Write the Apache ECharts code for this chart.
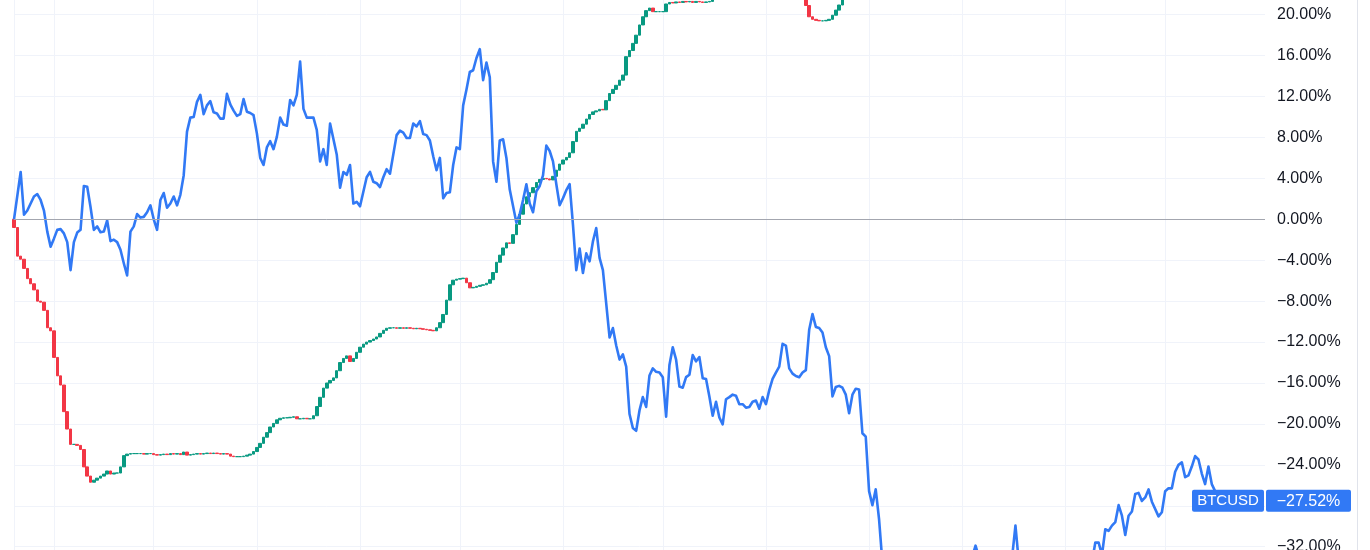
<!DOCTYPE html>
<html><head><meta charset="utf-8">
<script src="https://cdn.jsdelivr.net/npm/echarts@6/dist/echarts.min.js"></script>
<style>html,body{margin:0;padding:0;background:#fff}#c{width:1370px;height:550px}</style>
</head><body><div id="c"></div>
<script>
// ---- data ----
const START_DATE = '2022-05-20';   // first daily category
const DAY_COUNT = 377;             // daily categories shown across the pane
const Y_MIN = -36, Y_MAX = 24, Y_STEP = 4;

// main symbol (candles), daily close in % (open = previous close)
const CANDLE_CLOSE = [
 -0.8,-3.6,-3.9,-4.8,-5.8,-6.3,-6.9,-8.0,-8.1,-8.9,
 -10.6,-10.9,-13.5,-15.3,-16.2,-18.8,-20.5,-22.0,-22.0,-22.1,
 -22.5,-24.2,-25.1,-25.7,-25.5,-25.3,-25.1,-24.9,-24.6,-24.9,
 -24.8,-24.8,-24.2,-23.1,-22.95,-22.9,-22.9,-22.9,-22.9,-22.95,
 -22.9,-22.9,-23.0,-23.05,-23.0,-22.95,-23.0,-22.9,-22.95,-22.9,
 -23.0,-22.75,-23.05,-23.0,-22.95,-22.9,-22.95,-22.9,-22.85,-22.9,
 -22.85,-22.9,-22.95,-22.9,-22.95,-23.15,-23.2,-23.2,-23.2,-23.15,
 -23.05,-22.95,-22.7,-22.3,-21.9,-21.3,-20.85,-20.3,-19.95,-19.6,
 -19.45,-19.4,-19.4,-19.35,-19.3,-19.5,-19.5,-19.45,-19.5,-19.5,
 -19.2,-18.3,-17.4,-16.5,-16.0,-15.75,-15.5,-14.8,-14.0,-13.6,
 -13.35,-13.9,-13.6,-13.0,-12.5,-12.2,-12.0,-11.85,-11.7,-11.5,
 -11.15,-10.85,-10.65,-10.6,-10.6,-10.65,-10.6,-10.65,-10.6,-10.65,
 -10.7,-10.65,-10.7,-10.75,-10.8,-10.85,-10.9,-10.6,-10.1,-9.3,
 -7.9,-6.4,-5.95,-5.85,-5.8,-5.75,-6.2,-6.7,-6.65,-6.55,
 -6.45,-6.4,-6.25,-5.9,-5.2,-4.2,-3.5,-2.8,-2.3,-2.35,
 -1.5,-0.5,0.5,1.5,2.2,2.6,3.1,3.6,3.9,4.0,
 3.95,3.85,4.2,4.8,5.4,5.8,6.05,6.5,7.6,8.6,
 8.9,9.3,9.8,10.25,10.5,10.6,10.75,10.7,11.6,12.3,
 12.7,13.1,13.6,14.1,15.9,16.5,17.2,18.0,19.0,19.8,
 20.4,20.65,20.3,20.3,20.3,20.3,21.05,21.2,21.15,21.25,
 21.2,21.3,21.25,21.3,21.2,21.3,21.25,21.2,21.25,21.3,
 23.5,24.2,24.8,25.3,25.6,25.4,25.9,26.3,26.1,26.4,
 26.8,26.5,26.2,25.9,26.0,25.6,25.2,24.9,24.5,24.0,
 23.6,23.2,22.9,22.6,22.3,22.1,21.9,21.7,20.9,19.8,
 19.55,19.45,19.4,19.4,19.45,19.55,19.95,20.45,20.95,21.8,
 22.6,23.3,24.0,24.6,25.1,25.5
];

// compare symbol (line): day index -> % change
const BLUE_DAY = [
 0,2,3,4,6,7,8,9,10,11,12,13,14,15,16,17,18,19,20,21,22,23,24,25,26,27,28,29,30,31,32,33,34,35,36,37,38,39,40,
 41,42,43,44,45,46,47,48,49,50,51,52,53,54,55,56,57,58,59,60,61,62,63,64,65,66,67,68,69,70,71,72,73,74,75,76,77,78,79,80,
 81,82,83,84,85,86,87,88,89,90,91,92,93,94,95,97,98,99,100,101,102,103,104,106,107,108,109,110,111,112,113,115,116,117,118,119,120,
 121,122,123,124,125,126,127,128,129,130,131,132,133,134,135,136,137,138,139,140,141,142,143,144,145,146,147,148,149,151,152,153,154,155,156,157,158,159,160,
 161,162,163,164,165,166,167,168,169,170,171,172,173,174,175,176,177,178,179,180,181,182,183,184,185,186,187,188,189,190,191,192,193,194,195,196,197,198,199,200,
 201,202,203,204,205,206,207,208,209,210,211,212,213,214,215,216,217,218,219,220,221,222,223,224,225,226,227,228,229,230,231,232,233,234,235,236,237,238,239,240,
 241,242,243,244,245,246,247,248,249,250,251,252,253,254,255,256,257,258,259,260,261,264,268,272,276,280,284,288,289,290,293,296,299,300,301,302,305,309,313,317,321,324,
 325,326,327,328,329,330,331,332,333,334,335,336,337,338,339,340,341,342,344,345,346,347,348,349,350,351,352,353,354,355,356,357,358,359,360,361,363
];
const BLUE_PCT = [
 0,4.63,0.45,0.86,2.23,2.47,1.89,0.86,-1.2,-2.67,-1.89,-1.03,-0.96,-1.37,-2.23,-4.97,-2.23,-1.30,-1.03,3.26,3.19,1.20,-1.03,-0.69,-1.27,-1.20,-0.10,-2.13,-1.99,-2.23,-2.98,-4.29,-5.49,-1.20,-0.69,0.51,0.17,0.24,0.69,
 1.37,0,-1.03,1.89,2.57,1.13,1.54,2.23,1.37,2.40,4.29,8.57,9.94,10.0,11.48,12.17,10.28,11.14,11.55,10.46,10.35,9.84,9.84,12.27,11.24,10.63,10.11,10.28,11.76,10.52,10.39,10.18,8.40,6.0,5.31,7.03,7.64,6.86,8.06,9.94,
 9.26,9.15,11.66,11.14,12.17,15.43,10.80,9.94,9.94,9.94,8.74,5.66,6.86,5.31,9.36,6.34,3.09,4.63,4.35,5.31,1.54,1.71,1.27,4.11,4.63,3.67,3.53,3.15,4.11,4.90,4.46,8.23,8.67,8.47,7.95,7.95,9.36,
 9.08,9.60,8.33,8.23,7.71,6.17,4.80,6.0,2.06,2.57,2.64,5.31,7.03,6.86,11.14,12.68,14.40,14.57,15.77,16.63,13.61,15.32,13.88,5.66,3.67,7.71,7.82,6.0,2.91,-0.34,0.51,1.89,3.43,1.54,0.69,2.74,3.26,4.29,7.20,
 6.68,5.66,3.43,1.37,2.06,2.85,3.43,-0.51,-4.97,-2.85,-5.25,-3.33,-4.11,-2.16,-0.86,-3.77,-4.97,-8.23,-11.55,-10.63,-12.34,-13.71,-13.20,-14.40,-19.03,-20.40,-20.67,-18.68,-17.38,-18.34,-15.26,-14.57,-14.91,-14.98,-15.43,-19.30,-14.23,-12.51,-13.71,-16.35,
 -16.46,-15.43,-15.19,-13.27,-13.88,-13.47,-15.53,-15.60,-17.31,-19.20,-17.83,-19.37,-20.05,-17.59,-17.38,-17.14,-17.24,-18.07,-18.07,-18.41,-18.34,-17.83,-17.72,-18.51,-17.38,-18.07,-16.70,-15.60,-14.98,-14.40,-12.17,-12.34,-14.57,-15.08,-15.32,-15.43,-14.98,-14.74,-10.80,-9.26,
 -10.52,-10.63,-11.07,-12.51,-13.37,-17.31,-16.39,-16.28,-16.46,-17.14,-18.96,-17.14,-16.56,-16.63,-20.91,-21.25,-26.57,-27.94,-26.40,-29.31,-33.5,-35.5,-37,-36.5,-35.5,-34.8,-35.5,-33.0,-31.9,-33.0,-35,-35.5,-34,-33.0,-29.93,-33.5,-35,-36.5,-36,-35,-34.5,-33.5,
 -31.6,-31.6,-32.8,-30.3,-30.46,-29.94,-29.6,-27.94,-28.97,-30.85,-28.97,-28.56,-26.84,-26.74,-27.53,-27.19,-26.40,-27.60,-29.04,-28.63,-26.57,-26.30,-26.3,-24.68,-24.00,-23.76,-25.20,-25.03,-24.17,-23.14,-23.48,-24.85,-25.88,-24.17,-25.88,-26.57,-27.52
];
const COMPARE_NAME = 'BTCUSD';
const COMPARE_LAST = -27.52;

// ---- build ----
const days = [];
const t0 = Date.parse(START_DATE + 'T00:00:00Z');
for (let i = 0; i < DAY_COUNT; i++) days.push(new Date(t0 + i * 86400000).toISOString().slice(0, 10));

const candles = CANDLE_CLOSE.map((c, i) => {
  const o = i === 0 ? 0 : CANDLE_CLOSE[i - 1];
  return [o, c, Math.min(o, c), Math.max(o, c)];
});
const blue = new Array(DAY_COUNT).fill(null);
BLUE_DAY.forEach((d, k) => { blue[d] = BLUE_PCT[k]; });

const fmt = v => (v < 0 ? '\u2212' : '') + Math.abs(v).toFixed(2) + '%';
const GREEN = '#089981', RED = '#F23645', BLUE = '#3179F5', GRID = '#F0F3FA';
const FONT = 'Liberation Sans, Arial, sans-serif';

const chart = echarts.init(document.getElementById('c'), null, { renderer: 'canvas' });
chart.setOption({
  animation: false,
  backgroundColor: '#ffffff',
  grid: { left: 14, right: 105, top: -26.2, height: 613.8, containLabel: false, outerBoundsMode: 'none' },
  xAxis: {
    type: 'category', data: days, boundaryGap: false,
    axisLine: { show: false }, axisTick: { show: false }, axisLabel: { show: false },
    splitLine: { show: true, interval: (i, v) => i === 0 || v.slice(8) === '01', lineStyle: { color: GRID, width: 1 } }
  },
  yAxis: {
    type: 'value', position: 'right', min: Y_MIN, max: Y_MAX, interval: Y_STEP,
    axisLine: { show: false }, axisTick: { show: false },
    axisLabel: { formatter: fmt, color: '#131722', fontSize: 16, margin: 12, fontFamily: FONT },
    splitLine: { show: true, lineStyle: { color: GRID, width: 1 } }
  },
  series: [
    {
      type: 'candlestick', data: candles, barWidth: 3, clip: true, z: 2,
      itemStyle: { color: GREEN, color0: RED, borderColor: GREEN, borderColor0: RED, borderWidth: 1 },
      markLine: {
        silent: true, symbol: 'none', label: { show: false },
        lineStyle: { color: '#A3A6AF', width: 1, type: 'solid' },
        data: [{ yAxis: 0 }]
      }
    },
    {
      type: 'line', name: COMPARE_NAME, data: blue, connectNulls: true, showSymbol: false, symbol: 'none',
      clip: true, z: 3, lineStyle: { color: BLUE, width: 2.6, join: 'round' }, itemStyle: { color: BLUE }
    }
  ]
});

const yPix = chart.convertToPixel({ yAxisIndex: 0 }, COMPARE_LAST);
chart.setOption({
  graphic: [
    { type: 'line', shape: { x1: 1357.5, y1: 0, x2: 1357.5, y2: 550 }, style: { stroke: '#E0E3EB', lineWidth: 1 }, z: 10 },
    { type: 'rect', shape: { x: 1192, y: yPix - 11, width: 72, height: 22, r: 2 }, style: { fill: BLUE }, z: 10 },
    { type: 'text', x: 1228, y: yPix + 0.5, style: { text: COMPARE_NAME, fill: '#fff', font: '15px ' + FONT, align: 'center', verticalAlign: 'middle' }, z: 11 },
    { type: 'rect', shape: { x: 1266, y: yPix - 11, width: 85, height: 22, r: 2 }, style: { fill: BLUE }, z: 10 },
    { type: 'text', x: 1308.5, y: yPix + 0.5, style: { text: fmt(COMPARE_LAST), fill: '#fff', font: '16px ' + FONT, align: 'center', verticalAlign: 'middle' }, z: 11 }
  ]
});
</script></body></html>
